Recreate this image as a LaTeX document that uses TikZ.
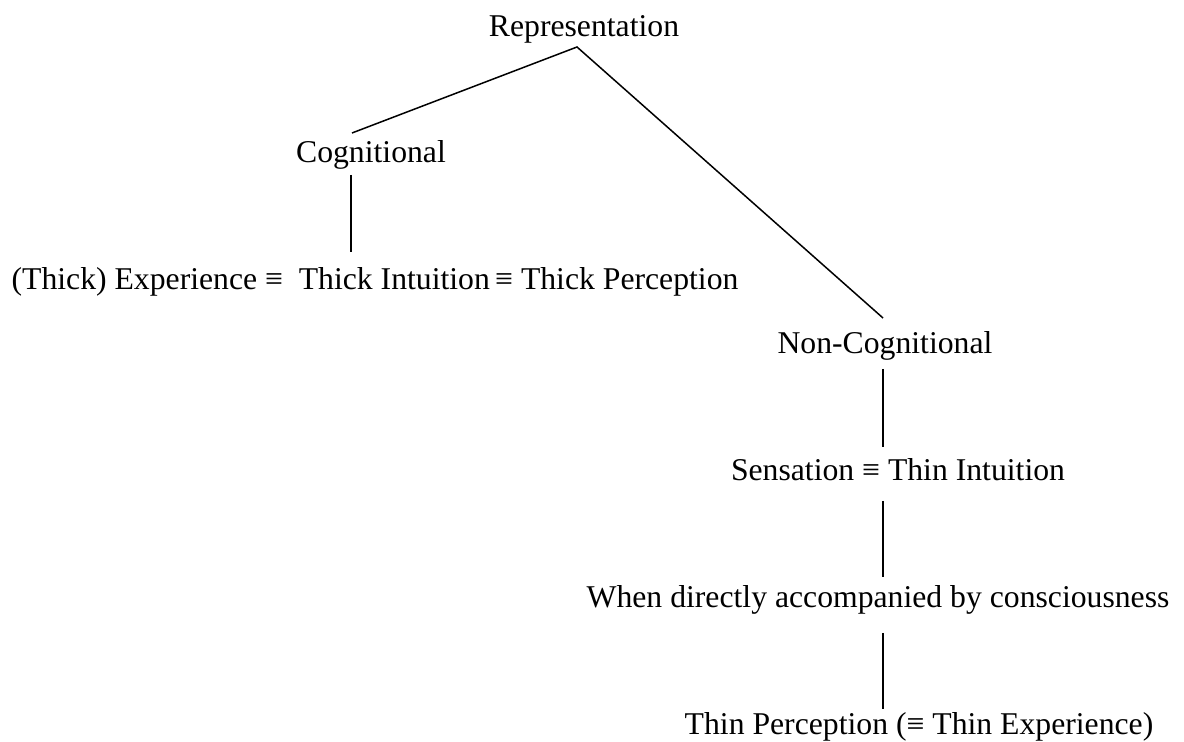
\documentclass[tikz,border=0pt]{standalone}
\usepackage{fontspec}
\setmainfont{Liberation Serif}
\begin{document}
\begin{tikzpicture}[x=0.5pt,y=-0.5pt,
  lbl/.style={inner sep=0pt,anchor=base,font=\fontsize{15.85}{19}\selectfont},
  conn/.style={line width=0.75pt,black}]
\useasboundingbox (0,0) rectangle (1184,742);
\node[lbl] (rep) at (584,37) {Representation};
\node[lbl] (cog) at (371,163) {Cognitional};
\node[lbl] (thick) at (375,290) {(Thick) Experience ≡\ \ Thick Intuition\,≡ Thick Perception};
\node[lbl] (noncog) at (885,354) {Non-Cognitional};
\node[lbl] (sens) at (898,481) {Sensation ≡ Thin Intuition};
\node[lbl] (when) at (878,608) {When directly accompanied by consciousness};
\node[lbl] (thin) at (919,734) {Thin Perception (≡ Thin Experience)};
\coordinate (repB) at (577,47);
\coordinate (cogT) at (352,133);
\coordinate (cogB) at (351,175);
\coordinate (thickT) at (351,252);
\coordinate (noncogT) at (883,318);
\coordinate (noncogB) at (883,369);
\coordinate (sensT) at (883,447);
\coordinate (sensB) at (883,501);
\coordinate (whenT) at (883,577);
\coordinate (whenB) at (883,633);
\coordinate (thinT) at (883,709);
\draw[conn] (cogT) -- (repB) -- (noncogT);
\draw[conn] (cogB) -- (thickT);
\draw[conn] (noncogB) -- (sensT);
\draw[conn] (sensB) -- (whenT);
\draw[conn] (whenB) -- (thinT);
\end{tikzpicture}
\end{document}
